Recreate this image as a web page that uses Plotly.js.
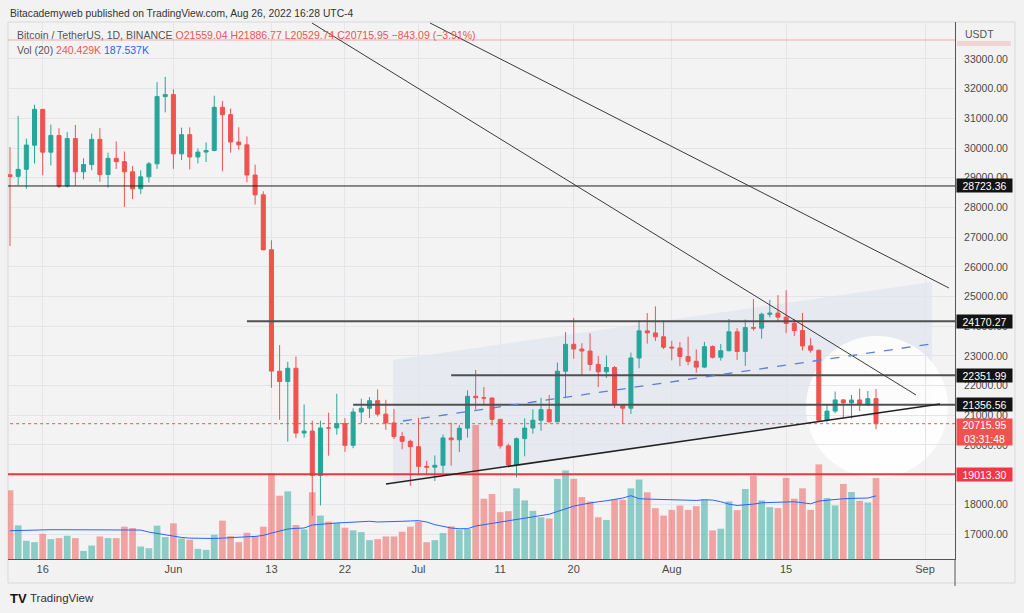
<!DOCTYPE html>
<html>
<head>
<meta charset="utf-8">
<script src="https://cdn.plot.ly/plotly-3.0.1.min.js"></script>
<style>
  html, body { margin: 0; padding: 0; background: #f2f2f2; }
  #chart { width: 1024px; height: 613px; }
</style>
</head>
<body>
<div id="chart"></div>
<script>
// BTCUSDT daily
const dates = [
  "2022-05-12","2022-05-13","2022-05-14","2022-05-15","2022-05-16","2022-05-17","2022-05-18","2022-05-19","2022-05-20","2022-05-21",
  "2022-05-22","2022-05-23","2022-05-24","2022-05-25","2022-05-26","2022-05-27","2022-05-28","2022-05-29","2022-05-30","2022-05-31",
  "2022-06-01","2022-06-02","2022-06-03","2022-06-04","2022-06-05","2022-06-06","2022-06-07","2022-06-08","2022-06-09","2022-06-10",
  "2022-06-11","2022-06-12","2022-06-13","2022-06-14","2022-06-15","2022-06-16","2022-06-17","2022-06-18","2022-06-19","2022-06-20",
  "2022-06-21","2022-06-22","2022-06-23","2022-06-24","2022-06-25","2022-06-26","2022-06-27","2022-06-28","2022-06-29","2022-06-30",
  "2022-07-01","2022-07-02","2022-07-03","2022-07-04","2022-07-05","2022-07-06","2022-07-07","2022-07-08","2022-07-09","2022-07-10",
  "2022-07-11","2022-07-12","2022-07-13","2022-07-14","2022-07-15","2022-07-16","2022-07-17","2022-07-18","2022-07-19","2022-07-20",
  "2022-07-21","2022-07-22","2022-07-23","2022-07-24","2022-07-25","2022-07-26","2022-07-27","2022-07-28","2022-07-29","2022-07-30",
  "2022-07-31","2022-08-01","2022-08-02","2022-08-03","2022-08-04","2022-08-05","2022-08-06","2022-08-07","2022-08-08","2022-08-09",
  "2022-08-10","2022-08-11","2022-08-12","2022-08-13","2022-08-14","2022-08-15","2022-08-16","2022-08-17","2022-08-18","2022-08-19",
  "2022-08-20","2022-08-21","2022-08-22","2022-08-23","2022-08-24","2022-08-25","2022-08-26"
];
const opens = [
  29100,29047,29283,30098,31304,29862,30424,28720,30319,29201,
  29445,30293,29109,29654,29543,29201,28629,29031,29468,31734,
  31801,29805,30452,29700,29865,29919,31374,31125,30204,30110,
  29092,28425,26575,22485,22136,22583,20401,20468,18970,20574,
  20574,20720,19988,21110,21237,21492,21038,20742,20281,20123,
  19942,19280,19252,19316,20237,20175,20565,21640,21592,21580,
  20862,19970,19331,20213,20571,20834,21190,20780,22486,23390,
  23231,23164,22714,22466,22609,21361,21239,22930,23843,23774,
  23644,23296,23267,22978,22819,22622,23313,22954,23174,23810,
  23151,23954,23934,24401,24442,24305,24094,23856,23337,23191,
  20834,21141,21517,21416,21516,21368,21559.04
];
const highs = [
  30032,31083,30316,31460,31304,30788,30666,30545,30777,29656,
  30487,30670,29845,30223,29886,29397,29250,29531,32222,32399,
  31982,30689,30699,29988,30189,31765,31589,31327,30700,30392,
  29440,28544,26895,23362,22800,22980,21365,20818,20815,21090,
  21723,20900,21233,21558,21614,21868,21520,21212,20432,20179,
  20918,19464,19647,20354,20750,20675,21838,22527,21954,21607,
  20868,20046,20253,20894,21200,21588,21683,22777,23800,24276,
  23427,23757,22998,23014,22660,21380,23112,24199,24442,24668,
  24194,23509,23466,23647,23223,23472,23354,23400,24245,23933,
  24226,24918,24456,24888,25047,25211,24247,24446,23600,23203,
  21382,21800,21548,21684,21900,21819,21886.77
];
const lows = [
  26700,28751,28630,29480,29087,29416,28654,28669,28730,28947,
  29255,28866,28669,29294,28019,28282,28450,28839,29299,31200,
  29301,29594,29282,29485,29531,29890,29218,29843,29944,28850,
  28099,26560,21925,20846,20111,20232,20246,17622,17960,19637,
  20348,19770,19890,20740,20906,20960,20510,20202,19854,18626,
  18975,18979,18781,19055,19304,19763,20249,21192,21320,20652,
  19875,19238,18910,19617,20381,20478,20756,20763,21579,22907,
  22341,22500,21950,22257,21250,20706,21043,22586,23414,23502,
  23227,22850,22655,22683,22435,22587,22910,22842,23154,22865,
  22664,23852,23583,24296,24144,23773,23671,23180,23107,20783,
  20761,21069,20890,20890,21145,21310,20529.74
];
const closes = [
  29040,29283,30101,31305,29862,30425,28715,30319,29201,29445,
  30293,29109,29654,29542,29201,28629,29031,29468,31734,31801,
  29805,30452,29700,29865,29919,31373,31125,30204,30109,29091,
  28424,26574,22487,22136,22583,20401,20468,18970,20574,20573,
  20723,19987,21110,21237,21491,21038,20742,20281,20123,19942,
  19279,19252,19315,20236,20175,20565,21640,21592,21580,20861,
  19970,19329,20213,20570,20835,21190,20779,22485,23389,23231,
  23164,22714,22465,22609,21361,21239,22931,23843,23774,23643,
  23293,23269,22979,22818,22622,23312,22954,23175,23810,23149,
  23954,23934,24403,24441,24306,24095,23855,23336,23191,20834,
  21140,21517,21417,21515,21368,21560,20715.95
];
// volume in thousands of BTC
const volumes = [
  204,100,54,50,75,59,62,69,62,24,
  40,67,62,62,96,92,37,32,99,65,
  106,61,57,30,27,72,114,68,50,78,
  68,96,255,188,201,101,88,198,129,111,
  107,93,85,80,56,59,67,67,81,96,
  111,50,56,77,97,87,89,398,179,193,
  139,142,210,174,143,124,120,238,263,238,
  184,171,124,116,178,176,210,236,198,151,
  129,146,159,146,157,176,85,90,171,145,
  208,247,174,154,151,241,179,210,146,281,
  181,159,223,199,173,168,240.429
];
// Vol (20) moving average, as drawn
const volMA = [
  84,85,86,86,86,87,87,87,86,86,
  86,86,87,87,88,88,86,80,76,71,
  67,64,62,61,61,61,62,64,65,66,
  67,70,77,83,89,91,92,101,104,105,
  107,108,110,111,112,110,110,111,112,113,
  114,110,102,97,92,90,90,98,102,105,
  108,112,117,122,126,129,133,141,150,157,
  162,167,170,173,176,181,188,179,178,177,
  177,176,175,174,174,176,175,170,163,159,
  160,163,167,168,168,170,170,167,164,172,
  175,177,179,180,181,181,187.537
];

const priceTicks = [17000,18000,19000,20000,21000,22000,23000,24000,25000,26000,27000,28000,29000,30000,31000,32000,33000];
const timeTicks = ["2022-05-16","2022-06-01","2022-06-13","2022-06-22","2022-07-01","2022-07-11","2022-07-20","2022-08-01","2022-08-15","2022-09-01"];
const timeLabels = ["16","Jun","13","22","Jul","11","20","Aug","15","Sep"];

const UP = "#26a69a", DOWN = "#ef5350";
const FONT = "Liberation Sans, Arial, sans-serif";

// pixel helpers for paper-referenced things (plot area 8..955 x 22..559)
function px(x) { return (x - 8) / 947; }
function py(y) { return (559 - y) / 537; }

const volColors = closes.map((c, i) =>
  c >= opens[i] ? "rgba(38,166,154,0.5)" : "rgba(239,83,80,0.5)"
);

const traces = [
  {
    type: "bar",
    x: dates,
    y: volumes,
    width: 0.82 * 86400000,
    marker: { color: volColors, line: { width: 0 } },
    yaxis: "y",
    hoverinfo: "skip",
  },
  {
    type: "scatter",
    mode: "lines",
    x: dates,
    y: volMA,
    line: { color: "#2962ff", width: 1 },
    yaxis: "y",
    hoverinfo: "skip",
  },
  {
    type: "candlestick",
    x: dates,
    open: opens,
    high: highs,
    low: lows,
    close: closes,
    yaxis: "y2",
    increasing: { line: { color: UP, width: 1 }, fillcolor: UP },
    decreasing: { line: { color: DOWN, width: 1 }, fillcolor: DOWN },
    whiskerwidth: 0,
    hoverinfo: "skip",
  },
];

function hline(x0, y, color, width, dash) {
  return {
    type: "line", xref: "x", yref: "y2",
    x0: x0, x1: "2022-09-30", y0: y, y1: y,
    line: { color: color, width: width, dash: dash || "solid" },
  };
}
function tline(x0, y0, x1, y1, color, width, dash) {
  return {
    type: "line", xref: "x", yref: "y2",
    x0: x0, y0: y0, x1: x1, y1: y1,
    line: { color: color, width: width, dash: dash || "solid" },
  };
}

const shapes = [
  // chart frame
  { type: "rect", xref: "paper", yref: "paper", x0: 0, x1: px(1015), y0: py(583), y1: 1,
    line: { color: "#d9d9d9", width: 1 }, layer: "below" },
  // parallel channel fill
  { type: "path", xref: "x", yref: "y2", layer: "below",
    path: "M2022-06-27_21:07,22862 L2022-09-01_20:24,25489 L2022-09-01_20:24,21380 L2022-06-27_21:07,18753 Z",
    fillcolor: "rgba(120,150,220,0.10)", line: { width: 0 } },
  // white highlight circle
  { type: "circle", xref: "x", yref: "y2", layer: "below",
    x0: "2022-08-17 10:20", x1: "2022-09-03 19:26", y0: 18888, y1: 23670,
    fillcolor: "rgba(255,255,255,0.85)", line: { width: 0 } },
  hline("2022-05-01", 33640, "rgba(239,83,80,0.45)", 1),
  hline("2022-05-01", 28723.36, "#1e1e1e", 1),
  hline("2022-06-10", 24170.27, "#505050", 2),
  hline("2022-07-05", 22351.99, "#505050", 2),
  hline("2022-06-23", 21356.56, "#505050", 2),
  hline("2022-05-01", 20715.95, "#ef5350", 1, "dot"),
  hline("2022-05-01", 19013.30, "#e8383d", 2),
  // trend lines
  tline("2022-06-17 23:03", 34213, "2022-08-30 21:36", 21683, "#3a3a3a", 1),
  tline("2022-07-02 09:50", 34213, "2022-09-03 22:20", 25287, "#3a3a3a", 1),
  tline("2022-06-27 00:30", 18685, "2022-09-02 20:00", 21380, "#222222", 1.5),
  tline("2022-06-29 02:24", 20807, "2022-09-01 17:30", 23401, "#5b7fd6", 1.3, "dash"),
  // axis line continues through the time scale
  { type: "line", xref: "paper", yref: "paper", x0: 1, x1: 1, y0: py(559), y1: py(586),
    line: { color: "#555", width: 1 } },
  // faint label under USDT
  { type: "rect", xref: "paper", yref: "paper", x0: px(957), x1: px(1011), y0: py(46), y1: py(41),
    fillcolor: "rgba(239,83,80,0.18)", line: { width: 0 } },
];

function priceLabel(y, text, bg, h, shift) {
  return {
    xref: "paper", yref: "y2", x: 1, y: y, xanchor: "left", yanchor: "middle",
    xshift: 1, yshift: shift || 0, showarrow: false,
    text: text, width: 53, height: h || 11, bgcolor: bg, borderpad: 1,
    font: { family: FONT, size: 10.5, color: "#ffffff" },
  };
}

const annotations = [
  { xref: "paper", yref: "paper", x: px(8), y: py(13), xanchor: "left", yanchor: "middle",
    showarrow: false, text: "Bitacademyweb published on TradingView.com, Aug 26, 2022 16:28 UTC-4",
    font: { family: FONT, size: 10.3, color: "#333" } },
  { xref: "paper", yref: "paper", x: px(15), y: py(35), xanchor: "left", yanchor: "middle",
    showarrow: false,
    text: "Bitcoin / TetherUS, 1D, BINANCE <span style='color:#ef5350'>O21559.04 H21886.77 L20529.74 C20715.95 −843.09 (−3.91%)</span>",
    font: { family: FONT, size: 10.5, color: "#555" } },
  { xref: "paper", yref: "paper", x: px(15), y: py(50), xanchor: "left", yanchor: "middle",
    showarrow: false,
    text: "Vol (20) <span style='color:#ef5350'>240.429K</span> <span style='color:#2962ff'>187.537K</span>",
    font: { family: FONT, size: 10.5, color: "#555" } },
  { xref: "paper", yref: "paper", x: px(963), y: py(34), xanchor: "left", yanchor: "middle",
    showarrow: false, text: "USDT", font: { family: FONT, size: 10.5, color: "#555" } },
  priceLabel(28723.36, "28723.36", "#131313"),
  priceLabel(24170.27, "24170.27", "#131313"),
  priceLabel(22351.99, "22351.99", "#131313"),
  priceLabel(21356.56, "21356.56", "#131313"),
  Object.assign(priceLabel(20715.95, "20715.95<br>03:31:48", "#ef5350", 24, 6), { yanchor: "top" }),
  priceLabel(19013.30, "19013.30", "#f23645"),
  { xref: "paper", yref: "paper", x: px(8), y: py(598), xanchor: "left", yanchor: "middle",
    showarrow: false, text: "<b>TV</b>", font: { family: FONT, size: 13, color: "#131313" } },
  { xref: "paper", yref: "paper", x: px(28), y: py(598), xanchor: "left", yanchor: "middle",
    showarrow: false, text: "TradingView", font: { family: FONT, size: 11.5, color: "#333" } },
];

const layout = {
  width: 1024,
  height: 613,
  margin: { l: 8, r: 69, t: 22, b: 54 },
  paper_bgcolor: "#f2f2f2",
  plot_bgcolor: "#f3f3f3",
  showlegend: false,
  hovermode: false,
  dragmode: false,
  font: { family: FONT, size: 11, color: "#4a4a4a" },
  xaxis: {
    type: "date",
    range: ["2022-05-11 18:07", "2022-09-04 16:05"],
    tickvals: timeTicks,
    ticktext: timeLabels,
    showgrid: true,
    gridcolor: "#e3e5ea",
    showline: true,
    linecolor: "#555",
    ticks: "",
    tickfont: { family: FONT, size: 11, color: "#4a4a4a" },
    rangeslider: { visible: false },
    zeroline: false,
    fixedrange: true,
  },
  yaxis: {
    range: [0, 1595],
    visible: false,
    showgrid: false,
    zeroline: false,
    fixedrange: true,
  },
  yaxis2: {
    overlaying: "y",
    side: "right",
    range: [16159, 34246],
    tickvals: priceTicks,
    ticktext: priceTicks.map((v) => v.toFixed(2)),
    showgrid: true,
    gridcolor: "#e3e5ea",
    showline: true,
    linecolor: "#555",
    ticks: "",
    ticklabelstandoff: 6,
    tickfont: { family: FONT, size: 10.5, color: "#4a4a4a" },
    zeroline: false,
    fixedrange: true,
  },
  shapes: shapes,
  annotations: annotations,
};

Plotly.newPlot("chart", traces, layout, { staticPlot: true, displayModeBar: false });
</script>
</body>
</html>
